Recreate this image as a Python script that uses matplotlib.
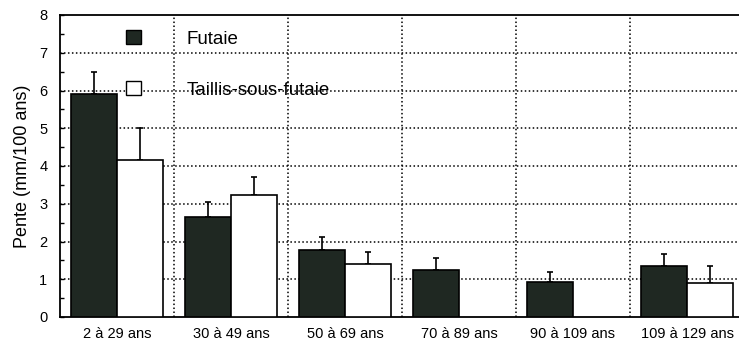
import matplotlib
matplotlib.use("Agg")
import matplotlib.pyplot as plt
from matplotlib.patches import Patch
import numpy as np

plt.rcParams['font.family'] = ['Liberation Sans', 'DejaVu Sans']

categories = ["2 à 29 ans", "30 à 49 ans", "50 à 69 ans", "70 à 89 ans", "90 à 109 ans", "109 à 129 ans"]
futaie = [5.9, 2.66, 1.77, 1.25, 0.94, 1.36]
futaie_err = [0.58, 0.38, 0.34, 0.30, 0.26, 0.30]
tsf = [4.16, 3.24, 1.40, 0.0, 0.0, 0.89]
tsf_err = [0.84, 0.46, 0.33, 0.0, 0.0, 0.46]
series_names = ["Futaie", "Taillis-sous-futaie"]
ylabel = "Pente (mm/100 ans)"

W, H = 739, 345
fig = plt.figure(figsize=(W/100, H/100), dpi=100)
L, R, B, T = 60, 739, 317, 15
ax = fig.add_axes([L/W, 1-B/H, (R-L)/W, (B-T)/H])

x = np.arange(len(categories))
bw = 0.40
dark = '#1f2822'
has_tsf = [v > 0 for v in tsf]

ax.bar(x - bw/2, futaie, bw, color=dark, edgecolor='black', linewidth=1.2, zorder=3)
ax.errorbar(x - bw/2, futaie, yerr=[np.zeros(len(futaie)), futaie_err], fmt='none',
            ecolor='black', elinewidth=1.2, capsize=2, capthick=1.2, zorder=2)
xt = x[has_tsf] + bw/2
vt = np.array(tsf)[has_tsf]
et = np.array(tsf_err)[has_tsf]
ax.bar(xt, vt, bw, color='white', edgecolor='black', linewidth=1.2, zorder=3)
ax.errorbar(xt, vt, yerr=[np.zeros(len(vt)), et], fmt='none',
            ecolor='black', elinewidth=1.2, capsize=2, capthick=1.2, zorder=2)

ax.set_ylim(0, 8)
ax.set_xlim(-0.5, -0.5 + (R-L)/114)
ax.set_yticks(range(0, 9))
ax.set_yticks(np.arange(0.5, 8, 1), minor=True)
ax.set_xticks(x)
ax.set_xticklabels(categories, fontsize=10.5)
ax.tick_params(axis='x', length=0, pad=7)
ax.tick_params(axis='y', which='major', direction='in', length=3, width=1, labelsize=10.5, pad=9)
ax.tick_params(axis='y', which='minor', direction='in', length=3, width=1)

for yv in range(1, 8):
    ax.axhline(yv, color='black', linestyle=(0, (1, 1.6)), linewidth=1.1, zorder=1)
for xv in np.arange(0.5, len(categories), 1):
    ax.axvline(xv, color='black', linestyle=(0, (1, 1.6)), linewidth=1.1, zorder=1)

for s in ['left', 'bottom', 'top']:
    ax.spines[s].set_linewidth(1.3)
ax.spines['right'].set_visible(False)

ax.set_ylabel(ylabel, fontsize=13, labelpad=6)

handles = [Patch(facecolor=dark, edgecolor='black', linewidth=1),
           Patch(facecolor='white', edgecolor='black', linewidth=1)]
fs = 13.5
px = fs * 100 / 72
leg = ax.legend(handles, series_names, loc='upper left',
                bbox_to_anchor=((126-L)/(R-L), (B-30)/(B-T)),
                frameon=False, prop={'size': fs}, handlelength=15/px,
                handleheight=15/px,
                handletextpad=46/px, labelspacing=(52-px)/px,
                borderpad=0, borderaxespad=0)

fig.savefig("out.png", dpi=100)
